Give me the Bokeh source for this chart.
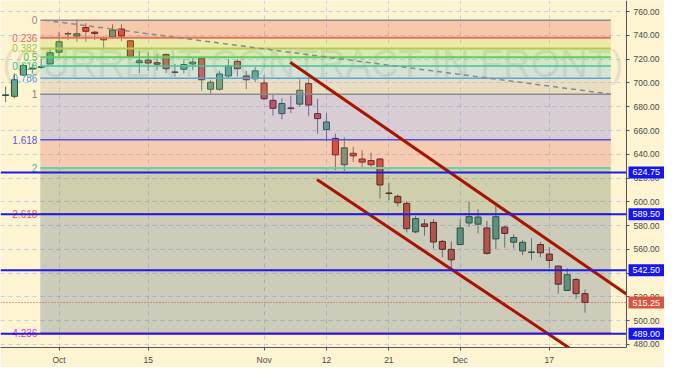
import numpy as np
import pandas as pd
from bokeh.plotting import figure
from bokeh.models import FixedTicker, Label, NumeralTickFormatter, Range1d, LinearAxis
from bokeh.core.properties import value
from bokeh.embed import file_html
from bokeh.resources import INLINE

# ---------------- data ----------------
dates = pd.bdate_range("2018-09-21", "2018-12-21")

opens = [689.5, 688.8, 706.7, 712.0, 713.2, 716.0, 725.9, 741.2, 739.5, 746.7,
         742.7, 738.2, 738.7, 745.4, 735.5, 717.1, 719.2, 717.1, 724.0, 709.2,
         711.5, 716.0, 720.8, 694.7, 694.7, 705.9, 718.2, 705.9, 703.5, 700.0,
         685.4, 674.2, 679.0, 682.2, 699.5, 674.2, 660.8, 653.4, 631.2, 640.8,
         636.0, 634.7, 636.0, 607.4, 604.6, 598.7, 574.7, 581.4, 582.7, 566.7,
         560.0, 564.0, 582.2, 581.2, 578.0, 568.8, 578.7, 566.0, 558.7, 557.4,
         564.0, 556.0, 545.9, 525.4, 534.7, 522.7]
highs = [697.0, 708.0, 716.0, 716.0, 720.0, 728.0, 742.7, 743.2, 753.4, 750.2,
         744.0, 739.2, 749.4, 749.4, 736.0, 726.7, 726.0, 724.0, 724.6, 716.0,
         720.0, 720.8, 721.0, 702.7, 710.2, 720.0, 720.0, 710.2, 713.4, 706.7,
         690.0, 687.2, 689.4, 703.2, 705.4, 686.7, 674.7, 657.4, 654.2, 646.2,
         643.5, 641.4, 636.8, 616.0, 606.2, 600.8, 588.0, 585.4, 585.4, 568.0,
         566.7, 585.4, 600.0, 593.9, 584.0, 597.4, 580.0, 572.6, 568.0, 569.4,
         566.2, 561.9, 546.0, 544.0, 536.0, 526.2]
lows = [684.0, 687.0, 706.0, 708.0, 712.0, 716.0, 722.7, 736.0, 734.7, 734.7,
        736.0, 728.0, 738.0, 735.2, 722.0, 708.0, 710.2, 710.7, 708.0, 705.4,
        708.0, 710.7, 693.4, 690.7, 693.4, 704.0, 705.4, 694.7, 700.6, 685.4,
        672.6, 669.4, 674.7, 680.0, 672.0, 657.4, 650.7, 626.7, 626.0, 633.4,
        628.0, 627.5, 602.7, 601.4, 596.0, 574.2, 573.4, 571.5, 560.8, 553.4,
        544.0, 564.0, 578.7, 573.4, 555.5, 560.0, 561.4, 560.8, 555.2, 551.2,
        553.4, 544.0, 522.7, 525.4, 518.2, 506.7]
closes = [690.0, 702.7, 714.7, 712.5, 713.6, 725.4, 734.7, 741.6, 741.4, 743.5,
          741.6, 736.3, 744.6, 739.5, 722.4, 718.7, 716.8, 715.8, 712.0, 709.0,
          715.5, 717.6, 702.7, 700.6, 707.5, 714.2, 712.0, 702.7, 710.2, 686.7,
          678.7, 682.7, 678.5, 693.9, 681.4, 670.0, 667.2, 639.5, 645.4, 638.7,
          633.4, 631.2, 614.2, 607.0, 599.2, 577.4, 585.9, 579.2, 566.2, 560.0,
          551.2, 578.0, 587.5, 587.2, 556.6, 587.5, 573.4, 570.0, 565.9, 557.8,
          557.1, 550.7, 530.7, 538.7, 522.7, 515.25]

tick_dates = ["2018-10-01", "2018-10-15", "2018-11-01", "2018-11-12",
              "2018-11-21", "2018-12-03", "2018-12-17"]
tick_labels = ["Oct", "15", "Nov", "12", "21", "Dec", "17"]
price_ticks = [480, 500, 520, 540, 560, 580, 600, 620, 640, 660, 680, 700, 720, 740, 760]

fib_ratios = [0, 0.236, 0.382, 0.5, 0.618, 0.786, 1, 1.618, 2, 2.618, 4.236]
fib_labels = ["0", "0.236", "0.382", "0.5", "0.618", "0.786", "1", "1.618", "2", "2.618", "4.236"]
fib_high = 752.8
fib_low = 690.6
fib_bar_span = [3.9, 67.9]           # bar-index extent of the fib tool
fib_trend_bars = [4.36, 67.9]

upper_channel_bars = [31.93, 72.0]
upper_channel_prices = [717.4, 510.2]
lower_channel_bars = [34.93, 64.0]
lower_channel_prices = [618.7, 473.2]

level_prices = [624.75, 589.50, 542.50, 489.00]
last_price = 515.25

# ---------------- styles ----------------
BG = "#fef4d2"
band_colors = ["#de4832", "#b6cc32", "#6acc52", "#5ac49e", "#5ab0da",
               "#aa9c8e", "#6658d6", "#da504e", "#42603e", "#3a5472"]
line_colors = ["#8c8c8c", "#e8705a", "#b5c94a", "#5fcf5a", "#3cc7a0", "#5aa6d6",
               "#8c8c8c", "#5050e6", "#66d4a4", "#e06060", "#e0609f"]
line_widths = [1.5, 2, 2, 2, 1.5, 1.5, 1.5, 1.5, 2, 1.5, 2]
label_colors = ["#888888", "#e06a5a", "#a8c43c", "#4fc24f", "#35c298", "#4a9fdc",
                "#7f7f7f", "#5a5ad0", "#3fbf9a", "#e05a5a", "#e03cbc"]

X0, X1, XEND = -0.57, 69.66, 73.92     # left edge, price-axis position, canvas edge
Y0, Y1 = 477.4, 769.4

p = figure(width=664, height=367, output_backend="svg", toolbar_location=None,
           x_range=Range1d(X0, XEND), y_range=Range1d(Y0, Y1), y_axis_location=None,
           min_border_left=0, min_border_top=0, min_border_right=0, min_border_bottom=17)
p.background_fill_color = BG
p.border_fill_color = BG
p.outline_line_color = None

x = np.arange(len(dates))
date_index = {d.strftime("%Y-%m-%d"): i for i, d in enumerate(dates)}
tick_idx = [date_index[d] for d in tick_dates]

# price-scale strip background (keeps grid out of it)
p.quad(left=[X1], right=[XEND], bottom=[Y0], top=[Y1], fill_color=BG, line_color=None,
       level="underlay")

# watermark
p.text(x=[(X0 + X1) / 2], y=[715.8], text=["(CURRENT CONTRACT IN FRONT)"],
       text_align="center", text_baseline="alphabetic", text_font=value("Liberation Sans"),
       text_font_size="38px", text_color="#8a8a80", text_alpha=0.2)

# candles
o = np.array(opens); c = np.array(closes); h = np.array(highs); l = np.array(lows)
up = c >= o
p.segment(x0=x, y0=l, x1=x, y1=h, line_color="#737375", line_width=1)
p.vbar(x=x[up], width=0.68, top=c[up], bottom=o[up], fill_color="#6ba583",
       line_color="#225437", line_width=1)
p.vbar(x=x[~up], width=0.68, top=o[~up], bottom=c[~up], fill_color="#d75442",
       line_color="#5b1a13", line_width=1)

# fib retracement
lvl = [fib_high - r * (fib_high - fib_low) for r in fib_ratios]
p.quad(left=fib_bar_span[0], right=fib_bar_span[1], top=lvl[:-1], bottom=lvl[1:],
       fill_color=band_colors, fill_alpha=0.25, line_color=None)
p.segment(x0=[fib_bar_span[0]] * len(lvl), y0=lvl, x1=[fib_bar_span[1]] * len(lvl), y1=lvl,
          line_color=line_colors, line_width=line_widths)
p.text(x=[fib_bar_span[0]] * len(lvl), y=lvl, text=fib_labels, x_offset=-3,
       text_align="right", text_baseline="middle", text_color=label_colors,
       text_font=value("Liberation Sans"), text_font_size="10px")
p.line(x=fib_trend_bars, y=[fib_high, fib_low], line_color="#8a8a8a",
       line_dash="5 4", line_width=1.5)

# channel (clipped at the price axis)
p.line(x=upper_channel_bars, y=upper_channel_prices, line_color="#a81400", line_width=3)
p.line(x=lower_channel_bars, y=lower_channel_prices, line_color="#a81400", line_width=3)
p.quad(left=[X1], right=[XEND], bottom=[Y0], top=[Y1], fill_color=BG, line_color=None)

# horizontal levels
n = len(level_prices)
p.segment(x0=[X0] * n, x1=[X1] * n, y0=level_prices, y1=level_prices,
          line_color="#1c1ce6", line_width=2)
p.segment(x0=[X0], x1=[X1], y0=[last_price], y1=[last_price],
          line_color="#c8503f", line_width=1, line_dash="1 2")

# price axis at the right edge of the chart area
yaxis = LinearAxis(fixed_location=X1, ticker=FixedTicker(ticks=price_ticks),
                   formatter=NumeralTickFormatter(format="0.00"))
p.add_layout(yaxis, "right")

for v in level_prices:
    p.add_layout(Label(x=X1, y=v, x_offset=2, text=f"{v:.2f}", text_align="left",
                       text_baseline="middle", text_color="white", text_font_size="9px",
                       text_font="Liberation Sans",
                       background_fill_color="#1515f0", padding=(4, 3)))
p.add_layout(Label(x=X1, y=last_price, x_offset=2, text=f"{last_price:.2f}", text_align="left",
                   text_baseline="middle", text_color="white", text_font_size="9px",
                   text_font="Liberation Sans",
                   background_fill_color="#d9533f", padding=(4, 3)))

# axes and grid
p.xaxis.ticker = FixedTicker(ticks=tick_idx)
p.xaxis.major_label_overrides = {i: t for i, t in zip(tick_idx, tick_labels)}
p.xaxis.bounds = (X0, X1)
for ax in (p.xaxis[0], yaxis):
    ax.axis_line_color = "#555555"
    ax.major_tick_line_color = "#555555"
    ax.major_tick_out = 3
    ax.major_tick_in = 0
    ax.minor_tick_line_color = None
    ax.major_label_text_font = "Liberation Sans"
    ax.major_label_text_font_size = "8.5px"
    ax.major_label_text_color = "#4a4a4a"
yaxis.major_label_standoff = 4
p.xaxis.major_label_standoff = 4
p.xgrid.ticker = FixedTicker(ticks=tick_idx)
p.ygrid.ticker = FixedTicker(ticks=price_ticks)
for g in (p.xgrid[0], p.ygrid[0]):
    g.grid_line_color = "#c9cde0"
    g.grid_line_dash = "4 4"
    g.grid_line_width = 1

open("out.html", "w").write(file_html(p, INLINE))
